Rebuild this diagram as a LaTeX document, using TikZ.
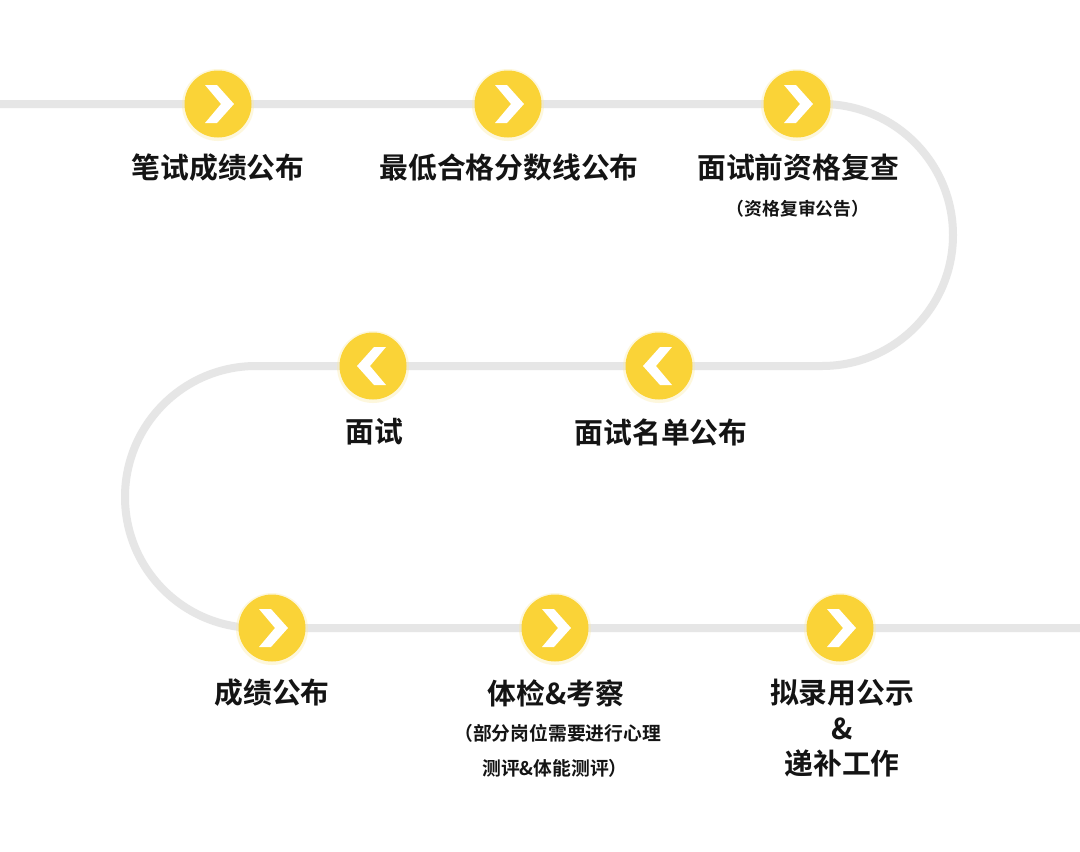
\documentclass[tikz,border=0pt]{standalone}
\usepackage{fontspec}
\usetikzlibrary{calc}
\newfontfamily\cjk{Noto Sans CJK SC}[BoldFont={Noto Sans CJK SC Bold}]
\definecolor{track}{HTML}{E6E6E6}
\definecolor{dotyellow}{HTML}{FAD337}
\definecolor{halo}{HTML}{FCE9A0}
\definecolor{ink}{HTML}{141414}
\tikzset{
  x=1pt,y=1pt,
  stepdot/.style={circle,fill=dotyellow,minimum size=67pt,inner sep=0pt},
  halodot/.style={circle,fill=halo,minimum size=72pt,inner sep=0pt,opacity=0.35},
  maintxt/.style={font=\cjk\bfseries\fontsize{28.8}{34}\selectfont,text=ink,inner sep=0pt},
  subtxt/.style={font=\cjk\bfseries\fontsize{17.8}{20}\selectfont,text=ink,inner sep=0pt},
  subtxtb/.style={font=\cjk\bfseries\fontsize{18.8}{22}\selectfont,text=ink,inner sep=0pt},
}
\newcommand{\rchev}[1]{\fill[white] ($(#1)+(-13,-19)$) -- ($(#1)+(-1,-19)$) -- ($(#1)+(16,0)$) -- ($(#1)+(-1,19)$) -- ($(#1)+(-13,19)$) -- ($(#1)+(3,0)$) -- cycle;}
\newcommand{\lchev}[1]{\fill[white] ($(#1)+(13,-19)$) -- ($(#1)+(1,-19)$) -- ($(#1)+(-16,0)$) -- ($(#1)+(1,19)$) -- ($(#1)+(13,19)$) -- ($(#1)+(-3,0)$) -- cycle;}
\begin{document}
\begin{tikzpicture}
\useasboundingbox (0,0) rectangle (1080,-852);
\fill[white] (0,0) rectangle (1080,-852);
% track
\coordinate (t0) at (0,-104);
\coordinate (t1) at (822,-104);
\coordinate (t2) at (256,-366);
\coordinate (t3) at (1080,-628);
\draw[track,line width=8pt] (t0) -- (t1) arc[start angle=90,end angle=-90,radius=131] -- (t2) arc[start angle=90,end angle=270,radius=131] -- (t3);
% dots
\foreach \n/\x/\y in {d1/218/104,d2/508/104,d3/797/104,d4/373/366,d5/659/366,d6/272/628,d7/555/628,d8/840/628}{
  \node[halodot] at (\x,-\y-1) {};
  \node[stepdot] (\n) at (\x,-\y) {};
}
\rchev{d1}\rchev{d2}\rchev{d3}
\lchev{d4}\lchev{d5}
\rchev{d6}\rchev{d7}\rchev{d8}
% labels
\node[maintxt] (l1) at (218,-168) {笔试成绩公布};
\node[maintxt] (l2) at (509,-168) {最低合格分数线公布};
\node[maintxt] (l3) at (798,-168) {面试前资格复查};
\node[subtxt] (l3b) at (798,-209) {（资格复审公告）};
\node[maintxt] (l4) at (374,-432) {面试};
\node[maintxt] (l5) at (661,-432) {面试名单公布};
\node[maintxt] (l6) at (272,-693) {成绩公布};
\node[maintxt] (l7) at (556,-693) {体检\&考察};
\node[subtxtb,anchor=west] (l7b) at (454,-733) {（部分岗位需要进行心理};
\node[subtxtb,anchor=west] (l7c) at (482,-768) {测评\&体能测评）};
\node[maintxt] (l8) at (842,-693) {拟录用公示};
\node[maintxt] (l8b) at (842,-729) {\&};
\node[maintxt] (l8c) at (842,-763) {递补工作};
\end{tikzpicture}
\end{document}
